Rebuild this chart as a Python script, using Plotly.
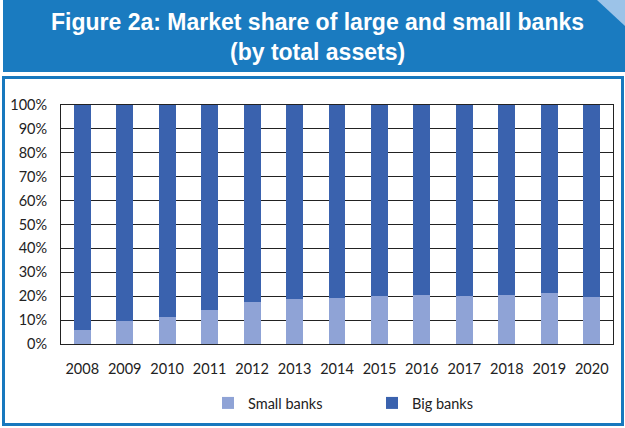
import plotly.graph_objects as go

years = ["2008", "2009", "2010", "2011", "2012", "2013", "2014",
         "2015", "2016", "2017", "2018", "2019", "2020"]
small_banks = [6.0, 9.7, 11.4, 14.2, 17.6, 19.0, 19.1, 20.1, 20.5, 20.1, 20.5, 21.2, 19.8]
big_banks = [94.0, 90.3, 88.6, 85.8, 82.4, 81.0, 80.9, 79.9, 79.5, 79.9, 79.5, 78.8, 80.2]
y_ticks = [0, 10, 20, 30, 40, 50, 60, 70, 80, 90, 100]
y_tick_labels = [f"{v}%" for v in y_ticks]

W, H = 625, 428
L, R, T, B = 61, 12, 105, 84
PW, PH = W - L - R, H - T - B

def px(x):
    return (x - L) / PW

def py(y):
    return (H - B - y) / PH

fig = go.Figure()
fig.add_trace(go.Bar(x=years, y=small_banks, name="Small banks", showlegend=True,
                     marker=dict(color="#8FA3D6", line_width=0), legend="legend"))
fig.add_trace(go.Bar(x=years, y=big_banks, name="Big banks", showlegend=True,
                     marker=dict(color="#3A62AE", line_width=0), legend="legend2"))

shapes = [
    dict(type="rect", xref="paper", yref="paper", x0=px(3), x1=px(625), y0=py(72), y1=py(0),
         fillcolor="#1A7BC0", line_width=0, layer="below"),
    dict(type="path", xref="paper", yref="paper",
         path=f"M {px(597)},{py(0)} L {px(625)},{py(0)} L {px(625)},{py(26)} Z",
         fillcolor="#9CC3E8", line_width=0),
    dict(type="rect", xref="paper", yref="paper", x0=px(3.5), x1=px(622.5), y0=py(424.5), y1=py(77.5),
         fillcolor="rgba(0,0,0,0)", line=dict(color="#1778BE", width=3), layer="below"),
]

title_font = dict(family="Liberation Sans", size=23, color="white")
annotations = [
    dict(xref="paper", yref="paper", x=px(317), y=py(22), text="<b>Figure 2a: Market share of large and small banks</b>",
         showarrow=False, font=title_font, xanchor="center", yanchor="middle"),
    dict(xref="paper", yref="paper", x=px(317), y=py(52), text="<b>(by total assets)</b>",
         showarrow=False, font=title_font, xanchor="center", yanchor="middle"),
]

fig.update_layout(
    width=W, height=H,
    margin=dict(l=L, r=R, t=T, b=B, autoexpand=False),
    paper_bgcolor="white", plot_bgcolor="white",
    barmode="stack", bargap=0.6,
    font=dict(family="Lato", size=14, color="#222"),
    shapes=shapes, annotations=annotations,
    xaxis=dict(showline=True, linecolor="#222", linewidth=1, mirror=True, ticks="",
               tickfont=dict(size=14.5), showgrid=False, ticklabelstandoff=12, automargin=False),
    yaxis=dict(range=[0, 100], tickvals=y_ticks, ticktext=y_tick_labels, showline=True, linecolor="#222",
               linewidth=1, mirror=True, showgrid=True, gridcolor="#222", gridwidth=1,
               tickfont=dict(size=14.5), zeroline=False, ticks="", ticklabelstandoff=10, automargin=False),
    legend=dict(orientation="h", x=px(208), y=py(403), xanchor="left", yanchor="middle",
                font=dict(size=14.5), bgcolor="rgba(0,0,0,0)"),
    legend2=dict(orientation="h", x=px(372), y=py(403), xanchor="left", yanchor="middle",
                 font=dict(size=14.5), bgcolor="rgba(0,0,0,0)"),
)

fig.write_html("out.html")
